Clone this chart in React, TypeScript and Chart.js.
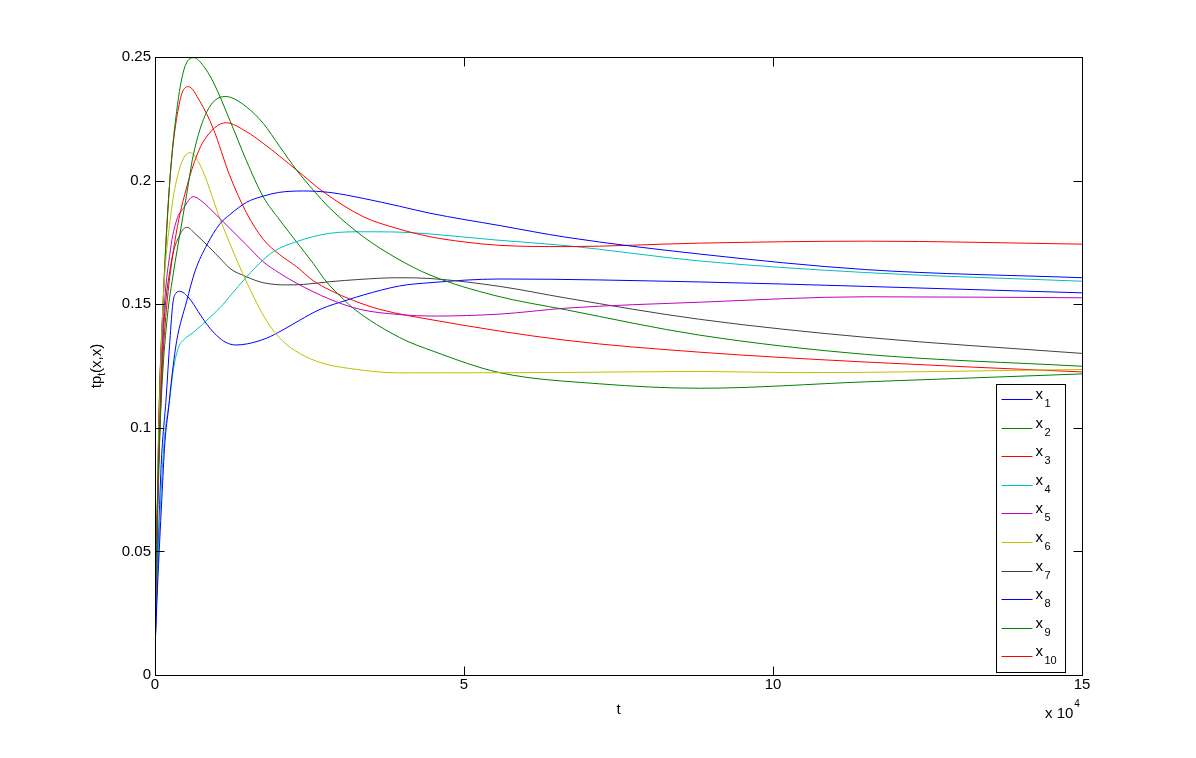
import React, { useEffect, useRef } from "react";
import { Chart, registerables } from "chart.js";

Chart.register(...registerables);

// t (raw), value pairs
const x1Data: [number, number][] = [
  [0, 0.01], [400, 0.035], [1100, 0.071], [1600, 0.094], [2200, 0.108], [2700, 0.12], [3500, 0.135],
  [5100, 0.151], [6500, 0.1635], [8400, 0.174], [10500, 0.1825], [12100, 0.1862], [14800, 0.1912],
  [17500, 0.1937], [20000, 0.1952], [24000, 0.1958], [28300, 0.1952], [33700, 0.1928], [39600, 0.1896],
  [44500, 0.1868], [55800, 0.1818], [66500, 0.1771], [88100, 0.1703], [115000, 0.164], [150000, 0.1607],
];
const x2Data: [number, number][] = [
  [0, 0.01], [300, 0.06], [700, 0.093], [1200, 0.12], [2000, 0.145], [3000, 0.163], [4000, 0.178],
  [5100, 0.194], [6200, 0.2104], [8400, 0.2279], [11300, 0.234], [12100, 0.2338], [14800, 0.2298],
  [17500, 0.2232], [20200, 0.2137], [22900, 0.2043], [25600, 0.1962], [28300, 0.1888], [33700, 0.1773],
  [39100, 0.1686], [44500, 0.1618], [55000, 0.1535], [66600, 0.1477], [88100, 0.1375], [115000, 0.1297],
  [150000, 0.1249],
];
const x3Data: [number, number][] = [
  [0, 0.01], [300, 0.06], [700, 0.095], [1200, 0.125], [2000, 0.152], [3000, 0.172], [4000, 0.186],
  [5100, 0.197], [6200, 0.2063], [7800, 0.2157], [11500, 0.2234], [14800, 0.2198], [17500, 0.2151],
  [22900, 0.2043], [27200, 0.1955], [33700, 0.1854], [39100, 0.1807], [44500, 0.1773], [50000, 0.1752],
  [55800, 0.1738], [66500, 0.1733], [88100, 0.1747], [115000, 0.1755], [150000, 0.1743],
];
const x4Data: [number, number][] = [
  [0, 0.01], [400, 0.04], [1000, 0.075], [1500, 0.095], [2400, 0.112], [3000, 0.124], [3800, 0.1325],
  [4600, 0.1355], [6200, 0.1386], [8900, 0.1447], [11050, 0.15], [12100, 0.1532], [14800, 0.161],
  [17500, 0.1679], [19100, 0.1712], [22900, 0.1753], [28300, 0.1787], [33700, 0.1793], [39100, 0.1792],
  [44500, 0.1784], [55000, 0.176], [66500, 0.1737], [88100, 0.1675], [115000, 0.1628], [150000, 0.1593],
];
const x5Data: [number, number][] = [
  [0, 0.01], [300, 0.055], [700, 0.095], [1300, 0.14], [2500, 0.172], [3500, 0.184], [4600, 0.1888],
  [6200, 0.1935], [7800, 0.1912], [9400, 0.1874], [12100, 0.1807], [14800, 0.174], [17500, 0.1672],
  [20200, 0.1625], [22900, 0.1585], [28300, 0.152], [33200, 0.1479], [39600, 0.1458], [45000, 0.1452],
  [55800, 0.146], [66500, 0.1484], [88100, 0.1508], [115000, 0.153], [150000, 0.1526],
];
const x6Data: [number, number][] = [
  [0, 0.01], [300, 0.06], [700, 0.105], [1300, 0.15], [2500, 0.185], [4000, 0.205], [5660, 0.2113],
  [7300, 0.2063], [10500, 0.1847], [12100, 0.1746], [14800, 0.1591], [18000, 0.1435], [20500, 0.1355],
  [23400, 0.1301], [27000, 0.1262], [31500, 0.124], [39600, 0.1222], [66500, 0.1224],
  [88100, 0.1228], [104000, 0.1223], [150000, 0.1236],
];
const x7Data: [number, number][] = [
  [0, 0.01], [300, 0.05], [700, 0.09], [1300, 0.135], [2500, 0.165], [4000, 0.178], [5200, 0.1811],
  [6500, 0.1785], [8400, 0.174], [11050, 0.1672], [12100, 0.1645], [14800, 0.1611], [17500, 0.1587],
  [21300, 0.1578], [24000, 0.158], [28300, 0.1591], [33000, 0.16], [39100, 0.1607], [44500, 0.1604],
  [55800, 0.1572], [66500, 0.1525], [88100, 0.1439], [115000, 0.1366], [150000, 0.1301],
];
const x8Data: [number, number][] = [
  [0, 0.01], [500, 0.05], [1000, 0.085], [1800, 0.112], [2400, 0.135], [2900, 0.1505], [3400, 0.1545],
  [4000, 0.1552], [5500, 0.1525], [7000, 0.147], [8500, 0.1415], [10000, 0.1373], [11500, 0.1345],
  [13100, 0.1335], [15000, 0.134], [18000, 0.1362], [20700, 0.1396], [23400, 0.1435], [26700, 0.1479],
  [31500, 0.152], [33700, 0.1537], [39600, 0.1574], [44500, 0.1587], [55800, 0.1602], [88100, 0.159],
  [115000, 0.1572], [150000, 0.1546],
];
const x9Data: [number, number][] = [
  [0, 0.01], [300, 0.05], [600, 0.1], [1300, 0.15], [2400, 0.2], [3500, 0.228], [4700, 0.245],
  [6300, 0.2497], [7800, 0.2465], [9400, 0.24], [12100, 0.2245], [14800, 0.208], [17500, 0.1935],
  [20200, 0.184], [22900, 0.1752], [25600, 0.1665], [27800, 0.1589], [30500, 0.152], [32100, 0.1483],
  [39600, 0.1365], [45000, 0.131], [55800, 0.1223], [71900, 0.1178], [88100, 0.116], [115000, 0.1186],
  [150000, 0.1218],
];
const x10Data: [number, number][] = [
  [0, 0.01], [300, 0.05], [600, 0.1], [1300, 0.15], [2400, 0.2], [4000, 0.2319], [5400, 0.238],
  [7300, 0.2319], [9400, 0.2212], [12100, 0.202], [14800, 0.187], [17500, 0.1763], [20200, 0.17],
  [22900, 0.1652], [25600, 0.1595], [28300, 0.1557], [32100, 0.1515], [36400, 0.1479], [45000, 0.1436],
  [66500, 0.1354], [88100, 0.1306], [115000, 0.1266], [150000, 0.1226],
];

const seriesData = [x1Data, x2Data, x3Data, x4Data, x5Data, x6Data, x7Data, x8Data, x9Data, x10Data];
const seriesSubscripts = ["1", "2", "3", "4", "5", "6", "7", "8", "9", "10"];
const seriesColors = [
  "#0000ff", "#008000", "#ff0000", "#00bfbf", "#bf00bf",
  "#bfbf00", "#404040", "#0000ff", "#008000", "#ff0000",
];
const xTicks = [0, 50000, 100000, 150000];
const yTicks = [0, 0.05, 0.1, 0.15, 0.2, 0.25];

const FONT = '"Liberation Sans", Arial, Helvetica, sans-serif';

const matlabPlugin = {
  id: "matlabDecor",
  afterDraw(chart: any) {
    const { ctx, chartArea: a, scales } = chart;
    const xs = scales.x;
    const ys = scales.y;
    ctx.save();
    ctx.strokeStyle = "#000";
    ctx.lineWidth = 1;
    const L = Math.round(a.left) + 0.5;
    const R = Math.round(a.right) + 0.5;
    const T = Math.round(a.top) + 0.5;
    const B = Math.round(a.bottom) + 0.5;
    ctx.strokeRect(L, T, R - L, B - T);
    ctx.beginPath();
    const tl = 9;
    for (const t of xTicks) {
      const p = Math.round(xs.getPixelForValue(t)) + 0.5;
      ctx.moveTo(p, B);
      ctx.lineTo(p, B - tl);
      ctx.moveTo(p, T);
      ctx.lineTo(p, T + tl);
    }
    for (const v of yTicks) {
      const p = Math.round(ys.getPixelForValue(v)) + 0.5;
      ctx.moveTo(L, p);
      ctx.lineTo(L + tl, p);
      ctx.moveTo(R, p);
      ctx.lineTo(R - tl, p);
    }
    ctx.stroke();

    ctx.fillStyle = "#000";
    ctx.textBaseline = "alphabetic";
    // x axis title
    ctx.font = `15px ${FONT}`;
    ctx.textAlign = "center";
    ctx.fillText("t", (a.left + a.right) / 2, 714);
    // exponent label
    ctx.textAlign = "left";
    ctx.fillText("x 10", a.right - 37, 718);
    const w10 = ctx.measureText("x 10").width;
    ctx.font = `10px ${FONT}`;
    ctx.fillText("4", a.right - 37 + w10 + 1, 707);

    // y axis title (rotated)
    ctx.save();
    ctx.translate(101, (a.top + a.bottom) / 2);
    ctx.rotate(-Math.PI / 2);
    ctx.font = `15px ${FONT}`;
    const p1 = "tp";
    const p3 = "(x,x)";
    const w1 = ctx.measureText(p1).width;
    const w3 = ctx.measureText(p3).width;
    ctx.font = `10px ${FONT}`;
    const w2 = ctx.measureText("t").width;
    const total = w1 + w2 + w3;
    let cx = -total / 2;
    ctx.font = `15px ${FONT}`;
    ctx.fillText(p1, cx, 0);
    cx += w1;
    ctx.font = `10px ${FONT}`;
    ctx.fillText("t", cx, 4);
    cx += w2;
    ctx.font = `15px ${FONT}`;
    ctx.fillText(p3, cx, 0);
    ctx.restore();

    // legend
    const bx = Math.round(a.right - 86) + 0.5;
    const bw = 69;
    const by = Math.round(a.top + 327) + 0.5;
    const bh = 288;
    ctx.fillStyle = "#fff";
    ctx.fillRect(bx, by, bw, bh);
    ctx.strokeStyle = "#000";
    ctx.strokeRect(bx, by, bw, bh);
    const rowH = 28.6;
    seriesData.forEach((_, i) => {
      const yy = Math.round(by + 14.5 + i * rowH) + 0.5;
      ctx.strokeStyle = seriesColors[i];
      ctx.beginPath();
      ctx.moveTo(bx + 5, yy);
      ctx.lineTo(bx + 36, yy);
      ctx.stroke();
      ctx.fillStyle = "#000";
      ctx.font = `15px ${FONT}`;
      ctx.textAlign = "left";
      ctx.fillText("x", bx + 39, yy - 1);
      ctx.font = `11px ${FONT}`;
      ctx.fillText(seriesSubscripts[i], bx + 48, yy + 7);
    });
    ctx.restore();
  },
};

export default function App() {
  const ref = useRef<HTMLCanvasElement | null>(null);
  useEffect(() => {
    document.body.style.margin = "0";
    const canvas = ref.current;
    if (!canvas) return;
    const chart = new Chart(canvas, {
      type: "line",
      data: {
        datasets: seriesData.map((d, i) => ({
          label: "x" + seriesSubscripts[i],
          data: d.map(([x, y]) => ({ x, y })),
          borderColor: seriesColors[i],
          backgroundColor: seriesColors[i],
          borderWidth: 1,
          pointRadius: 0,
          fill: false,
          cubicInterpolationMode: "monotone" as const,
        })),
      },
      options: {
        responsive: false,
        animation: false,
        devicePixelRatio: 1,
        layout: { padding: { left: 0, top: 57, right: 114, bottom: 0 } },
        plugins: { legend: { display: false }, tooltip: { enabled: false } },
        scales: {
          x: {
            type: "linear",
            min: 0,
            max: 150000,
            afterFit: (s: any) => {
              s.height = 83;
            },
            afterBuildTicks: (s: any) => {
              s.ticks = xTicks.map((v) => ({ value: v }));
            },
            grid: { display: false, drawTicks: false, tickLength: 0 },
            border: { display: false },
            ticks: {
              padding: 1,
              maxRotation: 0,
              color: "#000",
              font: { family: FONT, size: 15 },
              callback: (v: any) => String(Number(v) / 10000),
            },
          },
          y: {
            type: "linear",
            min: 0,
            max: 0.25,
            afterFit: (s: any) => {
              s.width = 155;
            },
            afterBuildTicks: (s: any) => {
              s.ticks = yTicks.map((v) => ({ value: v }));
            },
            grid: { display: false, drawTicks: false, tickLength: 0 },
            border: { display: false },
            ticks: {
              padding: 4,
              color: "#000",
              font: { family: FONT, size: 15 },
              callback: (v: any) => String(Number(Number(v).toFixed(2))),
            },
          },
        },
      },
      plugins: [matlabPlugin],
    });
    return () => chart.destroy();
  }, []);
  return (
    <div style={{ position: "absolute", left: 0, top: 0, width: 1196, height: 758, background: "#fff" }}>
      <canvas ref={ref} width={1196} height={758} />
    </div>
  );
}
